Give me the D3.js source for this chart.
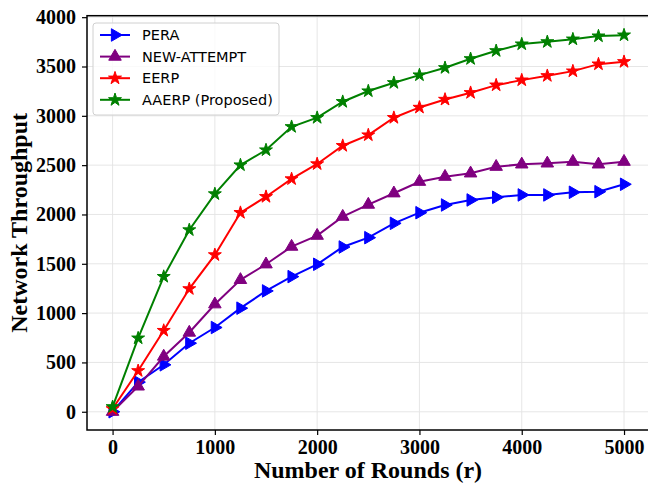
<!DOCTYPE html>
<html><head><meta charset="utf-8">
<script src="https://cdn.jsdelivr.net/npm/d3@7"></script>
<style>body{margin:0;background:#fff}svg{display:block}</style>
</head><body>
<script>
const rounds = [0,250,500,750,1000,1250,1500,1750,2000,2250,2500,2750,3000,3250,3500,3750,4000,4250,4500,4750,5000];
const pera = [0,300,476,695,854,1050,1225,1370,1495,1670,1765,1910,2018,2096,2147,2174,2198,2198,2225,2231,2306];
const newAttempt = [0,257,560,803,1090,1337,1495,1674,1785,1978,2100,2215,2332,2383,2417,2484,2508,2518,2535,2508,2535];
const eerp = [30,415,823,1246,1590,2018,2180,2360,2512,2697,2805,2981,3085,3166,3234,3311,3362,3406,3453,3524,3548];
const aaerp = [50,746,1370,1843,2208,2501,2653,2889,2981,3143,3251,3335,3413,3487,3578,3659,3727,3750,3777,3808,3818];
const seriesNames = ["PERA","NEW-ATTEMPT","EERP","AAERP (Proposed)"];
const xTicks = [0,1000,2000,3000,4000,5000];
const yTicks = [0,500,1000,1500,2000,2500,3000,3500,4000];

const series = [
  {name: seriesNames[0], values: pera, color: "blue", marker: "right"},
  {name: seriesNames[1], values: newAttempt, color: "purple", marker: "up"},
  {name: seriesNames[2], values: eerp, color: "red", marker: "star"},
  {name: seriesNames[3], values: aaerp, color: "green", marker: "star"}
];

const W = 648, H = 484;
const L = 87, R = 649.6, T = 15.7, B = 430;
const svg = d3.select("body").append("svg").attr("width", W).attr("height", H);
const x = d3.scaleLinear().domain([-250, 5250]).range([L, R]);
const y = d3.scaleLinear().domain([-185, 4015]).range([B, T]);

// grid
const g = svg.append("g");
g.selectAll(".gx").data(xTicks).enter().append("line")
  .attr("x1", d => x(d)).attr("x2", d => x(d)).attr("y1", T).attr("y2", B)
  .attr("stroke", "#e3e3e3").attr("stroke-width", 0.9);
g.selectAll(".gy").data(yTicks).enter().append("line")
  .attr("x1", L).attr("x2", R).attr("y1", d => y(d)).attr("y2", d => y(d))
  .attr("stroke", "#e3e3e3").attr("stroke-width", 0.9);

// axes
const xAxis = d3.axisBottom(x).tickValues(xTicks).tickSize(5).tickPadding(5).tickFormat(d3.format("d"));
const yAxis = d3.axisLeft(y).tickValues(yTicks).tickSize(5).tickPadding(6).tickFormat(d3.format("d"));
const ax = svg.append("g").attr("transform", `translate(0,${B})`).call(xAxis);
const ay = svg.append("g").attr("transform", `translate(${L},0)`).call(yAxis);
[ax, ay].forEach(a => {
  a.select(".domain").remove();
  a.selectAll(".tick line").attr("stroke", "#000").attr("stroke-width", 1.2);
  a.selectAll(".tick text").attr("font-family", "Liberation Serif, Times New Roman, serif")
    .attr("font-weight", "bold").attr("font-size", 20).attr("fill", "#000");
});

// spines
svg.append("rect").attr("x", L).attr("y", T).attr("width", R - L).attr("height", B - T)
  .attr("fill", "none").attr("stroke", "#000").attr("stroke-width", 1.5);

// lines + markers
const sym = {
  right: d3.symbol().type(d3.symbolTriangle).size(68),
  up: d3.symbol().type(d3.symbolTriangle).size(68),
  star: d3.symbol().type(d3.symbolStar).size(52)
};
const rot = {right: 90, up: 0, star: 0};
const line = d3.line().x((d, i) => x(rounds[i])).y(d => y(d));
series.forEach(s => {
  svg.append("path").attr("d", line(s.values)).attr("fill", "none")
    .attr("stroke", s.color).attr("stroke-width", 2);
  svg.append("g").selectAll("path").data(s.values).enter().append("path")
    .attr("d", sym[s.marker]())
    .attr("transform", (d, i) => `translate(${x(rounds[i])},${y(d)}) rotate(${rot[s.marker]})`)
    .attr("fill", s.color).attr("stroke", s.color).attr("stroke-width", 1);
});

// legend
const lg = svg.append("g");
lg.append("rect").attr("x", 93).attr("y", 23).attr("width", 186).attr("height", 92).attr("rx", 3)
  .attr("fill", "#fff").attr("fill-opacity", 0.8).attr("stroke", "#d0d0d0").attr("stroke-width", 1);
series.forEach((s, i) => {
  const yy = 35 + i * 21.6;
  lg.append("line").attr("x1", 100).attr("x2", 130).attr("y1", yy).attr("y2", yy)
    .attr("stroke", s.color).attr("stroke-width", 2);
  lg.append("path").attr("d", sym[s.marker]())
    .attr("transform", `translate(115,${yy}) rotate(${rot[s.marker]})`)
    .attr("fill", s.color).attr("stroke", s.color);
  lg.append("text").attr("x", 142).attr("y", yy).attr("dy", "0.35em")
    .attr("font-family", "DejaVu Sans, sans-serif").attr("font-size", 14.5).attr("fill", "#000")
    .text(s.name);
});

// labels
svg.append("text").attr("x", 368).attr("y", 478)
  .attr("text-anchor", "middle").attr("font-family", "Liberation Serif, Times New Roman, serif")
  .attr("font-weight", "bold").attr("font-size", 24).text("Number of Rounds (r)");
svg.append("text").attr("transform", `translate(27,${(B + T) / 2}) rotate(-90)`)
  .attr("text-anchor", "middle").attr("font-family", "Liberation Serif, Times New Roman, serif")
  .attr("font-weight", "bold").attr("font-size", 24).text("Network Throughput");
</script>
</body></html>
